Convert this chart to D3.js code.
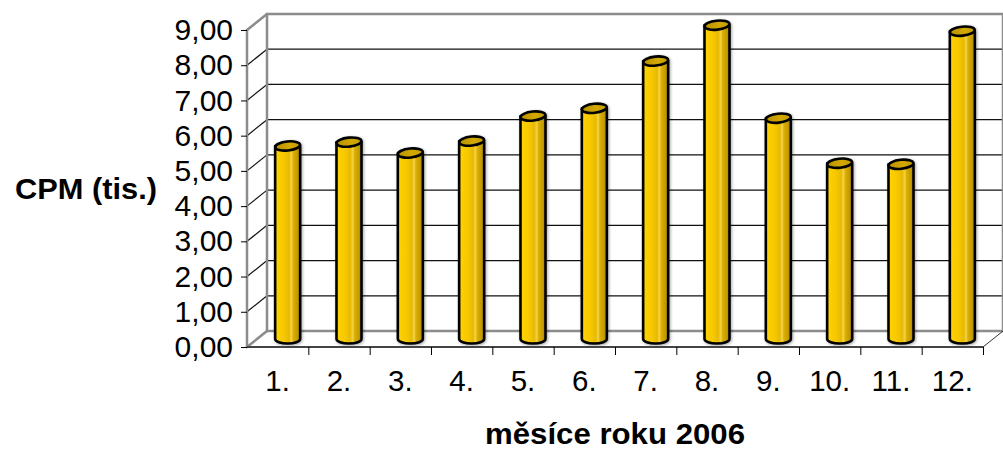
<!DOCTYPE html>
<html><head><meta charset="utf-8">
<script src="https://cdn.jsdelivr.net/npm/d3@7"></script>
<style>
html,body{margin:0;padding:0;background:#fff;}
svg{display:block;font-family:Arial,"Liberation Sans",sans-serif;}
</style></head>
<body>
<svg id="chart" width="1003" height="450"></svg>
<script>
const months = ["1.","2.","3.","4.","5.","6.","7.","8.","9.","10.","11.","12."];
const cpm = [5.48, 5.59, 5.28, 5.62, 6.33, 6.55, 7.89, 8.91, 6.27, 4.99, 4.96, 8.74];
const yTicks = [0,1,2,3,4,5,6,7,8,9];
const yTitle = "CPM (tis.)";
const xTitle = "měsíce roku 2006";

const svg = d3.select("#chart");
const DX = 20, DY = -16;           // depth offset of the 3D box
const xLeft = 247, xRight = 983;
const yFront = d3.scaleLinear().domain([0, 9]).range([347, 30]);
const yBack = v => yFront(v) + DY;
const yMid = v => yFront(v) + DY / 2;
const xBand = d3.scaleBand().domain(months).range([xLeft, xRight]).paddingInner(0).paddingOuter(0);
const xEdge = d3.scaleLinear().domain([0, 12]).range([xLeft, xRight]);
const fmt = d3.formatLocale({decimal: ",", thousands: " ", grouping: [3], currency: ["", ""]}).format(".2f");

const defs = svg.append("defs");
const g1 = defs.append("linearGradient").attr("id", "body").attr("x1", "0").attr("x2", "1").attr("y1", "0").attr("y2", "0");
[["0%", "#FFD300"], ["35%", "#F6C800"], ["55%", "#E8BA00"], ["66%", "#F2D24A"], ["72%", "#DDB000"], ["100%", "#B08C00"]]
  .forEach(s => g1.append("stop").attr("offset", s[0]).attr("stop-color", s[1]));
const g2 = defs.append("linearGradient").attr("id", "cap").attr("x1", "0").attr("x2", "1").attr("y1", "0").attr("y2", "0");
[["0%", "#B89200"], ["60%", "#D2A800"], ["100%", "#C49C00"]]
  .forEach(s => g2.append("stop").attr("offset", s[0]).attr("stop-color", s[1]));
const sh = defs.append("filter").attr("id", "shadow").attr("x", "-30%").attr("y", "-10%").attr("width", "160%").attr("height", "120%");
sh.append("feGaussianBlur").attr("in", "SourceAlpha").attr("stdDeviation", 1.5).attr("result", "b");
sh.append("feOffset").attr("in", "b").attr("dx", 1).attr("dy", 1).attr("result", "o");
sh.append("feComponentTransfer").attr("in", "o").attr("result", "o2").append("feFuncA").attr("type", "linear").attr("slope", 0.35);
const m = sh.append("feMerge"); m.append("feMergeNode").attr("in", "o2"); m.append("feMergeNode").attr("in", "SourceGraphic");

// walls: gridlines on back wall
const walls = svg.append("g");
const gridVals = yTicks.filter(v => v > 0 && v < 9);
walls.selectAll("line.gb").data(gridVals).join("line")
  .attr("x1", xLeft + DX).attr("x2", xRight + DX)
  .attr("y1", d => yBack(d)).attr("y2", d => yBack(d))
  .attr("stroke", "#111").attr("stroke-width", 1.2);
walls.selectAll("line.gs").data(gridVals).join("line")
  .attr("x1", xLeft).attr("x2", xLeft + DX)
  .attr("y1", d => yFront(d)).attr("y2", d => yBack(d))
  .attr("stroke", "#111").attr("stroke-width", 1.2);
// gray box borders
const gray = "#8c8c8c";
const borders = [
  [xLeft, yFront(9), xLeft + DX, yBack(9)],
  [xLeft + DX, yBack(9), xRight + DX, yBack(9)],
  [xLeft + DX, yBack(9), xLeft + DX, yBack(0)],
  [xLeft + DX, yBack(0), xRight + DX, yBack(0)],
  [xLeft, yFront(0), xLeft + DX, yBack(0)],
  [xLeft, yFront(9), xLeft, yFront(0)],
  [xRight + DX, yBack(9), xRight + DX, yBack(0)]
];
walls.selectAll("line.bd").data(borders).join("line")
  .attr("x1", d => d[0]).attr("y1", d => d[1]).attr("x2", d => d[2]).attr("y2", d => d[3])
  .attr("stroke", gray).attr("stroke-width", 2.5).attr("stroke-linecap", "round");
walls.append("line").attr("x1", xRight).attr("y1", yFront(0)).attr("x2", xRight + DX).attr("y2", yBack(0))
  .attr("stroke", "#333").attr("stroke-width", 1);

// bars (cylinders)
const bw = 25, ry = 4.5;
const bars = svg.append("g").selectAll("g").data(months.map((mth, i) => ({mth, v: cpm[i]}))).join("g")
  .attr("filter", "url(#shadow)");
bars.append("path")
  .attr("d", d => {
    const cx = xBand(d.mth) + xBand.bandwidth() / 2 + DX / 2;
    const l = cx - bw / 2, r = cx + bw / 2, yt = yMid(d.v), yb = yMid(0);
    return `M${l},${yt} L${l},${yb} A${bw / 2},${ry} 0 0 0 ${r},${yb} L${r},${yt} Z`;
  })
  .attr("fill", "url(#body)").attr("stroke", "#000").attr("stroke-width", 2.6).attr("stroke-linejoin", "round");
bars.append("ellipse")
  .attr("cx", d => xBand(d.mth) + xBand.bandwidth() / 2 + DX / 2)
  .attr("cy", d => yMid(d.v))
  .attr("rx", bw / 2).attr("ry", ry)
  .attr("transform", d => `rotate(-6, ${xBand(d.mth) + xBand.bandwidth() / 2 + DX / 2}, ${yMid(d.v)})`)
  .attr("fill", "url(#cap)").attr("stroke", "#000").attr("stroke-width", 2.6);

// front floor line
svg.append("line").attr("x1", xLeft).attr("x2", xRight).attr("y1", yFront(0)).attr("y2", yFront(0))
  .attr("stroke", "#444").attr("stroke-width", 2);

// y axis
const yAxis = svg.append("g").attr("transform", `translate(${xLeft},0)`)
  .call(d3.axisLeft(yFront).tickValues(yTicks).tickFormat(fmt).tickSize(6).tickPadding(8));
yAxis.select(".domain").remove();
yAxis.selectAll(".tick line").attr("stroke", "#000");
yAxis.selectAll("text").attr("font-size", 30).attr("fill", "#000").attr("font-family", "Arial, 'Liberation Sans', sans-serif");

// x axis boundary ticks
const xt = svg.append("g").attr("transform", `translate(0,${yFront(0)})`)
  .call(d3.axisBottom(xEdge).tickValues(d3.range(1, 13)).tickFormat("").tickSize(8));
xt.select(".domain").remove();
xt.selectAll(".tick line").attr("stroke", "#000");
// x labels
const xl = svg.append("g").attr("transform", `translate(0,${yFront(0)})`)
  .call(d3.axisBottom(xBand).tickSize(0).tickPadding(23));
xl.select(".domain").remove();
xl.selectAll("text").attr("font-size", 29.5).attr("fill", "#000").attr("font-family", "Arial, 'Liberation Sans', sans-serif");

// titles
svg.append("text").attr("x", 15).attr("y", 199).attr("font-size", 30).attr("font-weight", "bold")
  .attr("textLength", 142).attr("lengthAdjust", "spacingAndGlyphs").text(yTitle);
svg.append("text").attr("x", 485).attr("y", 444).attr("font-size", 29.5).attr("font-weight", "bold")
  .attr("textLength", 260).attr("lengthAdjust", "spacingAndGlyphs").text(xTitle);
</script>
</body></html>
